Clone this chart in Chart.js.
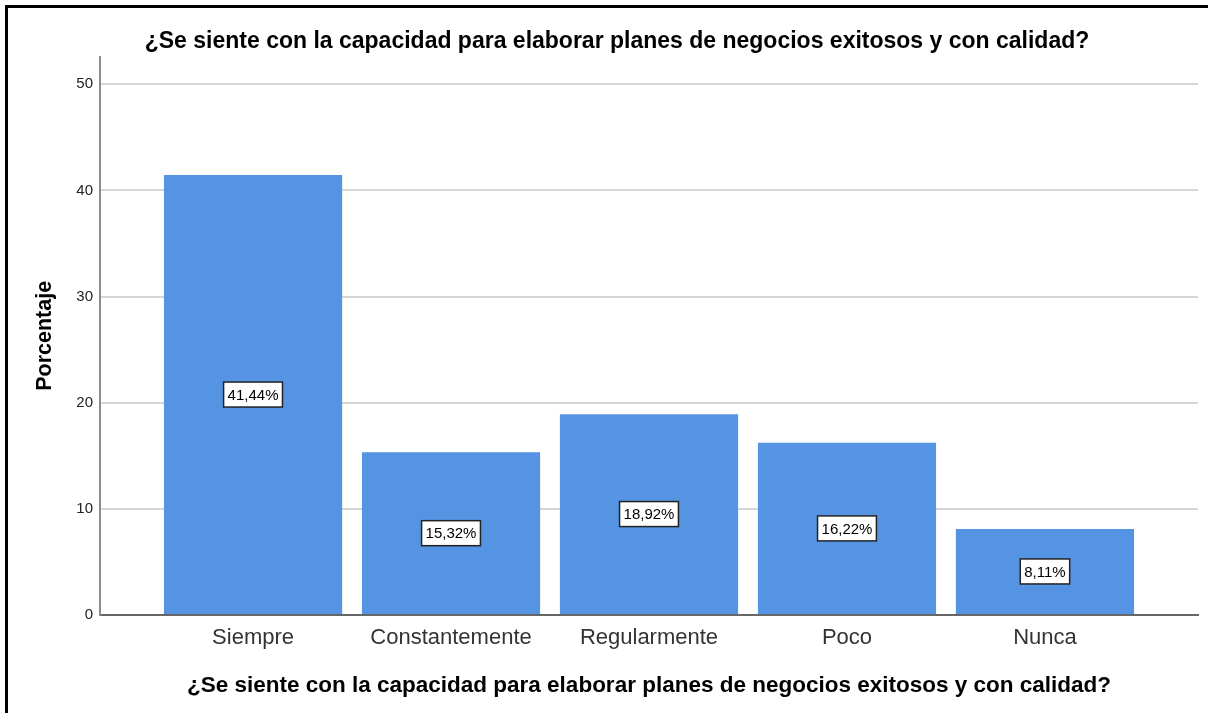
<!DOCTYPE html>
<html>
<head>
<meta charset="utf-8">
<script src="https://cdn.jsdelivr.net/npm/chart.js@4"></script>
<style>
  body { margin: 0; background: #fff; }
  #wrap { position: relative; width: 1208px; height: 713px; overflow: hidden; }
  #frame { position: absolute; left: 5px; top: 5px; width: 1400px; height: 900px; border: 3px solid #000; }
  canvas { position: absolute; left: 0; top: 0; }
</style>
</head>
<body>
<div id="wrap">
  <div id="frame"></div>
  <canvas id="chart" width="1208" height="713"></canvas>
</div>
<script>
const categories = ["Siempre", "Constantemente", "Regularmente", "Poco", "Nunca"];
const percentages = [41.44, 15.32, 18.92, 16.22, 8.11];
const questionText = "¿Se siente con la capacidad para elaborar planes de negocios exitosos y con calidad?";

const fontFamily = "'Liberation Sans', Arial, sans-serif";

// little white boxes with the value in the middle of each bar
const valueLabels = {
  id: "valueLabels",
  afterDatasetsDraw(chart) {
    const ctx = chart.ctx;
    const meta = chart.getDatasetMeta(0);
    ctx.save();
    ctx.font = "15px " + fontFamily;
    ctx.textAlign = "center";
    ctx.textBaseline = "middle";
    meta.data.forEach((bar, i) => {
      const text = percentages[i].toFixed(2).replace(".", ",") + "%";
      const cy = (bar.y + bar.base) / 2;
      const w = ctx.measureText(text).width + 8;
      const h = 25;
      ctx.fillStyle = "#fff";
      ctx.fillRect(bar.x - w / 2, cy - h / 2, w, h);
      ctx.lineWidth = 1.5;
      ctx.strokeStyle = "#222";
      ctx.strokeRect(bar.x - w / 2, cy - h / 2, w, h);
      ctx.fillStyle = "#000";
      ctx.fillText(text, bar.x, cy + 1);
    });
    ctx.restore();
  }
};

new Chart(document.getElementById("chart"), {
  type: "bar",
  data: {
    datasets: [{
      data: percentages.map((v, i) => ({ x: i + 1, y: v })),
      backgroundColor: "#5594e3",
      borderWidth: 0,
      categoryPercentage: 1,
      barPercentage: 0.9
    }]
  },
  options: {
    responsive: false,
    animation: false,
    layout: { padding: { top: 0, left: 36, right: 10, bottom: 0 } },
    plugins: {
      legend: { display: false },
      tooltip: { enabled: false },
      title: {
        display: true,
        text: questionText,
        color: "#000",
        font: { family: fontFamily, size: 23, weight: "bold" },
        padding: { top: 28, bottom: 1 }
      }
    },
    scales: {
      x: {
        type: "linear",
        offset: false,
        bounds: "data",
        min: 0.227,
        max: 5.773,
        afterBuildTicks: s => { s.ticks = categories.map((c, i) => ({ value: i + 1 })); },
        afterFit: s => { s.height = 98; },
        ticks: {
          callback: v => categories[v - 1] || "",
          color: "#333",
          font: { family: fontFamily, size: 22 },
          padding: 10,
          autoSkip: false,
          maxRotation: 0
        },
        grid: { display: false, drawTicks: false, offset: false },
        border: { color: "#666", width: 2 },
        title: {
          display: true,
          text: questionText,
          color: "#000",
          font: { family: fontFamily, size: 22.5, weight: "bold" },
          padding: { top: 0, bottom: 14 }
        }
      },
      y: {
        bounds: "data",
        min: 0,
        max: 52.6,
        afterFit: s => { s.width = 64; },
        ticks: {
          stepSize: 10,
          includeBounds: false,
          color: "#222",
          font: { family: fontFamily, size: 15 },
          padding: 7
        },
        grid: { color: "#d6d6d6", lineWidth: 2, drawTicks: false },
        border: { color: "#8c8c8c", width: 2 },
        title: {
          display: true,
          text: "Porcentaje",
          color: "#000",
          font: { family: fontFamily, size: 21.5, weight: "bold", lineHeight: 0.8 },
          padding: { top: 0.5, bottom: 0 }
        }
      }
    }
  },
  plugins: [valueLabels]
});
</script>
</body>
</html>
